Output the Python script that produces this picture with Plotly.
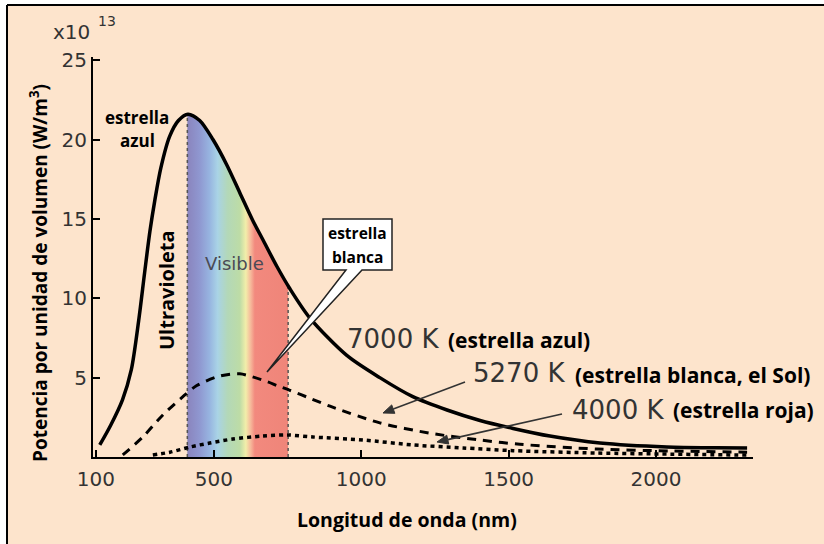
import numpy as np
import plotly.graph_objects as go

# ---------------- data ----------------
wl_7000 = [113, 150, 190, 220, 245, 265, 283, 300, 320, 350, 380, 412, 452, 497, 544, 588, 632, 666,
           714, 758, 826, 951, 1063, 1175, 1291, 1403, 1515, 1640, 1810, 2037, 2200, 2309]
p_7000 = [0.76, 2.0, 3.6, 5.5, 8.6, 11.6, 14.2, 16.2, 18.2, 20.2, 21.2, 21.6, 21.2, 20.0, 18.4, 16.65, 14.9, 13.7,
          12.0, 10.6, 8.75, 6.4, 5.0, 3.8, 2.96, 2.3, 1.8, 1.32, 0.88, 0.63, 0.58, 0.57]

wl_5270 = [191, 259, 327, 395, 442, 520, 588, 680, 714, 758, 826, 894, 1063, 1233, 1403, 1538, 1800, 2050, 2309]
p_5270 = [0.13, 1.26, 2.65, 3.8, 4.5, 5.1, 5.24, 4.75, 4.5, 4.2, 3.7, 3.2, 2.15, 1.5, 1.07, 0.8, 0.5, 0.38, 0.3]

wl_4000 = [293, 351, 419, 486, 564, 666, 748, 836, 1006, 1175, 1345, 1515, 1800, 2050, 2309]
p_4000 = [0.13, 0.3, 0.63, 0.88, 1.13, 1.32, 1.39, 1.26, 1.07, 0.76, 0.57, 0.4, 0.25, 0.18, 0.12]

visible_band = [410, 752]

x_ticks = [100, 500, 1000, 1500, 2000]
y_ticks = [5, 10, 15, 20, 25]

# ---------------- layout helpers (pixel -> paper) ----------------
W, H = 824, 544
L, R, T, B = 93, 71, 57, 87
PW, PH = W - L - R, H - T - B


def px(x):
    return (x - L) / PW


def py(y):
    return (H - B - y) / PH


def path(pts, close=True):
    s = "M " + " L ".join(f"{px(a):.5f},{py(b):.5f}" for a, b in pts)
    return s + (" Z" if close else "")


BG = "rgb(253,228,204)"
TXT = "#333333"
BOLD_FONT = "Open Sans"
REG_FONT = "DejaVu Sans"
SMOOTH = 0.8

fig = go.Figure()

# spectrum band under the 7000 K curve
xb = [visible_band[0]] + [w for w in wl_7000 if visible_band[0] < w < visible_band[1]] + [visible_band[1]]
yb = np.interp(xb, wl_7000, p_7000)
fig.add_trace(go.Scatter(
    x=xb, y=yb, mode="lines", line=dict(width=0, shape="spline", smoothing=SMOOTH),
    fill="tozeroy",
    fillgradient=dict(type="horizontal", colorscale=[
        [0.0, "#8a84bd"], [0.12, "#8f97d0"], [0.22, "#97b4e0"], [0.30, "#a9d3e6"],
        [0.40, "#b3d8b8"], [0.52, "#bddca6"], [0.58, "#f2eeaa"], [0.63, "#f6b79a"],
        [0.67, "#f2897e"], [1.0, "#ef8579"]]),
    hoverinfo="skip", showlegend=False))

# dotted boundaries of the visible band
for xv in visible_band:
    fig.add_trace(go.Scatter(
        x=[xv, xv], y=[0, float(np.interp(xv, wl_7000, p_7000))], mode="lines",
        line=dict(color="#555555", width=1.5, dash="dot"), showlegend=False, hoverinfo="skip"))

# curves
fig.add_trace(go.Scatter(x=wl_4000, y=p_4000, mode="lines",
                         line=dict(color="black", width=3.5, dash="4px,4px", shape="spline", smoothing=SMOOTH),
                         showlegend=False))
fig.add_trace(go.Scatter(x=wl_5270, y=p_5270, mode="lines",
                         line=dict(color="black", width=3, dash="9px,7px", shape="spline", smoothing=SMOOTH),
                         showlegend=False))
fig.add_trace(go.Scatter(x=wl_7000, y=p_7000, mode="lines",
                         line=dict(color="black", width=3.5, shape="spline", smoothing=SMOOTH),
                         showlegend=False))

axis_common = dict(
    ticks="inside", ticklen=7, tickwidth=2, tickcolor="black",
    showline=True, linecolor="black", linewidth=2, showgrid=False, zeroline=False,
    tickfont=dict(family=REG_FONT, size=20, color=TXT),
)
fig.update_xaxes(range=[90, 2329], tickvals=x_ticks, ticktext=[str(v) for v in x_ticks],
                 ticklabelstandoff=3, **axis_common)
fig.update_yaxes(range=[0, 25.2], tickvals=y_ticks, ticktext=[str(v) for v in y_ticks],
                 **axis_common)

ann = []


def text(x, y, s, size, family, color="black", xanchor="center", angle=0):
    ann.append(dict(x=px(x), y=py(y), xref="paper", yref="paper", text=s, showarrow=False,
                    xanchor=xanchor, yanchor="middle", textangle=angle,
                    font=dict(family=family, size=size, color=color)))


text(71, 32, "x10", 20, REG_FONT, TXT)
text(107, 21, "13", 14, REG_FONT, TXT)
text(39, 273, "<b>Potencia por unidad de volumen (W/m<sup>3</sup>)</b>", 19, BOLD_FONT, angle=-90)
text(407, 519, "<b>Longitud de onda (nm)</b>", 19.5, BOLD_FONT)
text(137, 117, "<b>estrella</b>", 17, BOLD_FONT)
text(137, 140, "<b>azul</b>", 17, BOLD_FONT)
text(166, 290, "<b>Ultravioleta</b>", 20, BOLD_FONT, angle=-90)
text(234, 263, "Visible", 18, REG_FONT, "#4a4a55")
text(357, 233, "<b>estrella</b>", 15.5, BOLD_FONT)
text(357, 257, "<b>blanca</b>", 15.5, BOLD_FONT)

text(345, 339, "7000 K", 26, REG_FONT, TXT, xanchor="left")
text(446, 340, "<b>(estrella azul)</b>", 21, BOLD_FONT, xanchor="left")
text(471, 373, "5270 K", 26, REG_FONT, TXT, xanchor="left")
text(573, 375, "<b>(estrella blanca, el Sol)</b>", 21, BOLD_FONT, xanchor="left")
text(570, 410, "4000 K", 26, REG_FONT, TXT, xanchor="left")
text(671, 410, "<b>(estrella roja)</b>", 21, BOLD_FONT, xanchor="left")

shapes = [
    # callout box with tail
    dict(type="path", xref="paper", yref="paper",
         path=path([(323, 219), (392, 219), (392, 270), (362, 270), (267, 372), (346, 270), (323, 270)]),
         fillcolor="white", line=dict(color="#222222", width=1.5), layer="above"),
]

# arrows drawn as a line plus a filled head
for (hx, hy), (tx, ty) in [((383, 413), (465, 382)), ((437, 442), (562, 414))]:
    d = np.array([hx - tx, hy - ty], dtype=float)
    u = d / np.linalg.norm(d)
    n = np.array([-u[1], u[0]])
    base = np.array([hx, hy]) - 11 * u
    c1 = base + 4.5 * n
    c2 = base - 4.5 * n
    shapes.append(dict(type="path", xref="paper", yref="paper",
                       path=path([(tx, ty), tuple(base)], close=False),
                       line=dict(color="#333333", width=1.6), layer="above"))
    shapes.append(dict(type="path", xref="paper", yref="paper",
                       path=path([(hx, hy), tuple(c1), tuple(c2)]),
                       fillcolor="#333333", line=dict(color="#333333", width=1), layer="above"))

shapes += [
    # white margins outside the frame
    dict(type="rect", xref="paper", yref="paper", x0=px(0), x1=px(7), y0=py(H), y1=py(0),
         fillcolor="white", line=dict(width=0), layer="above"),
    dict(type="rect", xref="paper", yref="paper", x0=px(0), x1=px(W), y0=py(5), y1=py(0),
         fillcolor="white", line=dict(width=0), layer="above"),
    # frame lines
    dict(type="line", xref="paper", yref="paper", x0=px(7), x1=px(7), y0=py(H), y1=py(5),
         line=dict(color="black", width=2), layer="above"),
    dict(type="line", xref="paper", yref="paper", x0=px(7), x1=px(W), y0=py(5), y1=py(5),
         line=dict(color="black", width=2), layer="above"),
]

fig.update_layout(
    width=W, height=H, margin=dict(l=L, r=R, t=T, b=B, pad=0),
    paper_bgcolor=BG, plot_bgcolor=BG,
    showlegend=False, annotations=ann, shapes=shapes,
)

fig.write_html("out.html")
